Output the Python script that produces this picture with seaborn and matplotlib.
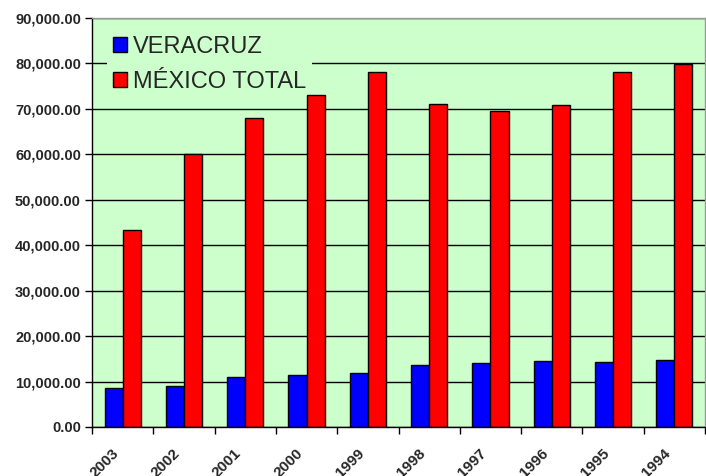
import pandas as pd
import numpy as np
import matplotlib.pyplot as plt
import matplotlib.transforms as mtransforms
import seaborn as sns
from matplotlib.ticker import FuncFormatter, FixedLocator

years = ["2003", "2002", "2001", "2000", "1999", "1998", "1997", "1996", "1995", "1994"]
veracruz = [8500, 9000, 11000, 11400, 11900, 13600, 14000, 14500, 14200, 14700]
mexico_total = [43300, 60100, 68100, 73000, 78200, 71000, 69600, 70800, 78200, 79800]

df = pd.DataFrame({
    "year": years * 2,
    "value": veracruz + mexico_total,
    "serie": ["VERACRUZ"] * len(years) + ["MÉXICO TOTAL"] * len(years),
})

sns.set_style("white")
plt.rcParams['font.family'] = ['Liberation Sans', 'DejaVu Sans']

fig = plt.figure(figsize=(7.06, 4.76), dpi=100)
ax = fig.add_axes([92 / 706, 1 - 427 / 476, 613 / 706, 409 / 476])
ax.set_facecolor("#CCFFCC")

sns.barplot(data=df, x="year", y="value", hue="serie", order=years,
            palette={"VERACRUZ": "#0000FF", "MÉXICO TOTAL": "#FF0000"},
            width=0.59, edgecolor="black", linewidth=1, ax=ax, saturation=1)

ax.set_ylim(0, 90000)
ax.set_xlim(-0.5, len(years) - 0.5)
ax.set_yticks(np.arange(0, 90001, 10000))
ax.yaxis.set_major_formatter(FuncFormatter(lambda v, p: f"{v:,.2f}"))
ax.grid(axis="y", color="black", linewidth=1)
ax.set_axisbelow(True)

# ticks between categories
ax.xaxis.set_minor_locator(FixedLocator(np.arange(-0.5, len(years), 1)))
ax.tick_params(axis="x", which="major", length=0, pad=14)
ax.tick_params(axis="x", which="minor", length=5, width=1, color="black", direction="out")
ax.tick_params(axis="y", length=5, width=1, color="black", direction="out", pad=3)
ax.tick_params(bottom=True, left=True)
ax.xaxis.set_tick_params(which="minor", bottom=True)

for lab in ax.get_yticklabels():
    lab.set_fontweight("bold")
    lab.set_fontsize(10.5)
shift = mtransforms.ScaledTranslation(-11 / 100, 0, fig.dpi_scale_trans)
for lab in ax.get_xticklabels():
    lab.set_fontweight("bold")
    lab.set_fontsize(11)
    lab.set_rotation(45)
    lab.set_ha("right")
    lab.set_rotation_mode("anchor")
    lab.set_transform(lab.get_transform() + shift)

ax.set_xlabel("")
ax.set_ylabel("")

for s in ["left", "bottom"]:
    ax.spines[s].set_color("black")
    ax.spines[s].set_linewidth(1)
for s in ["top", "right"]:
    ax.spines[s].set_color("#999999")
    ax.spines[s].set_linewidth(1)

leg = ax.legend(loc="upper left", bbox_to_anchor=(15 / 613, 1 - 12 / 409), fontsize=17,
                frameon=True, facecolor="#CCFFCC", edgecolor="none", framealpha=1,
                handlelength=0.6, handleheight=0.6, handletextpad=0.25,
                borderpad=0.25, labelspacing=0.55, borderaxespad=0)
leg.get_frame().set_boxstyle("square", pad=0)
leg.set_zorder(0.8)  # above grid, below bars

fig.savefig("out.png", dpi=100)
